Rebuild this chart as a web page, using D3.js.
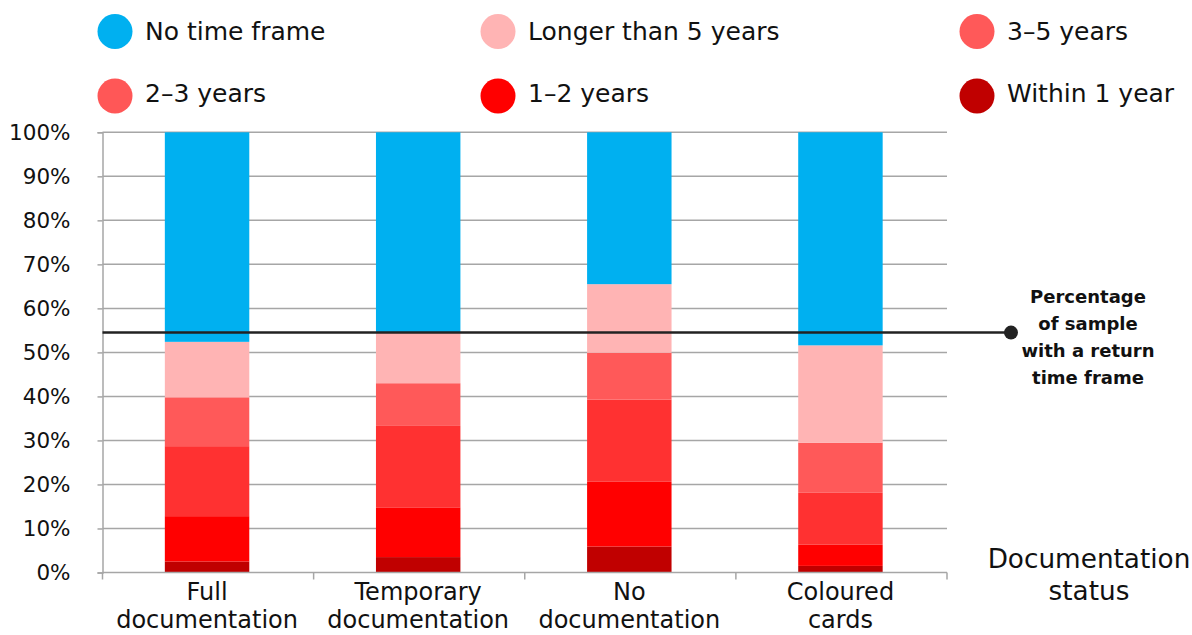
<!DOCTYPE html>
<html>
<head>
<meta charset="utf-8">
<script src="https://cdn.jsdelivr.net/npm/d3@7"></script>
<style>
  html, body { margin: 0; padding: 0; background: #fff; }
  svg { display: block; }
  text { font-family: "DejaVu Sans", sans-serif; fill: #111; }
</style>
</head>
<body>
<svg id="chart" width="1192" height="635"></svg>
<script>
// ---- data ----
const categories = ["Full documentation", "Temporary documentation", "No documentation", "Coloured cards"];
const seriesNames = ["Within 1 year", "1–2 years", "2–3 years", "3–5 years", "Longer than 5 years", "No time frame"];
const seriesColors = ["#C00000", "#FF0000", "#FF3131", "#FF5959", "#FFB4B4", "#00B0F0"];
const within1 = [2.5, 3.5, 5.9, 1.5];
const years1to2 = [10.3, 11.3, 14.7, 4.8];
const years2to3 = [15.9, 18.5, 18.7, 11.8];
const years3to5 = [11.1, 9.7, 10.6, 11.4];
const longer5 = [12.6, 11.5, 15.6, 22.1];
const noTimeFrame = [47.6, 45.5, 34.5, 48.4];
const yTicks = [0, 10, 20, 30, 40, 50, 60, 70, 80, 90, 100];
const referenceValue = 54.5;
const referenceLabel = ["Percentage", "of sample", "with a return", "time frame"];
const axisTitle = ["Documentation", "status"];
const legendOrder = ["No time frame", "Longer than 5 years", "3–5 years", "2–3 years", "1–2 years", "Within 1 year"];
const legendColors = ["#00B0F0", "#FFB4B4", "#FF5959", "#FF5757", "#FF0000", "#C00000"];

// ---- build table ----
const seriesValues = [within1, years1to2, years2to3, years3to5, longer5, noTimeFrame];
const table = categories.map((c, i) => {
  const row = { category: c };
  seriesNames.forEach((s, j) => row[s] = seriesValues[j][i]);
  return row;
});
const stacked = d3.stack().keys(seriesNames)(table);
const color = d3.scaleOrdinal().domain(seriesNames).range(seriesColors);
const legendColor = d3.scaleOrdinal().domain(legendOrder).range(legendColors);

const svg = d3.select("#chart");
const plotLeft = 102.5, plotRight = 947, plotTop = 132.3, plotBottom = 572.5;

const x = d3.scaleBand().domain(categories).range([plotLeft, plotRight]).paddingInner(0.6).paddingOuter(0.3);
const y = d3.scaleLinear().domain([0, 100]).range([plotBottom, plotTop]);

// gridlines
svg.append("g").selectAll("line").data(yTicks.filter(d => d > 0)).join("line")
  .attr("x1", plotLeft).attr("x2", plotRight)
  .attr("y1", d => y(d)).attr("y2", d => y(d))
  .attr("stroke", "#A6A6A6").attr("stroke-width", 1.5);

// y axis
const yAxis = svg.append("g").attr("transform", `translate(${plotLeft},0)`)
  .call(d3.axisLeft(y).tickValues(yTicks).tickFormat(d => d + "%").tickSize(5).tickPadding(27));
yAxis.select(".domain").attr("stroke", "#A6A6A6").attr("stroke-width", 1.5);
yAxis.selectAll(".tick line").attr("stroke", "#A6A6A6").attr("stroke-width", 1.5);
yAxis.selectAll(".tick text").attr("font-size", 21.5).attr("font-family", "DejaVu Sans").attr("fill", "#111");

// bars
svg.append("g").selectAll("g").data(stacked).join("g")
  .attr("fill", d => color(d.key))
  .selectAll("rect").data(d => d).join("rect")
  .attr("x", d => x(d.data.category) - 1)
  .attr("width", x.bandwidth())
  .attr("y", d => y(d[1]))
  .attr("height", d => y(d[0]) - y(d[1]));

// x axis baseline and boundary ticks
const gap = (x.step() - x.bandwidth()) / 2;
const boundaries = categories.map(c => x(c) - gap).concat([x(categories[categories.length - 1]) + x.bandwidth() + gap]);
svg.append("line").attr("x1", plotLeft).attr("x2", plotRight).attr("y1", y(0)).attr("y2", y(0))
  .attr("stroke", "#A6A6A6").attr("stroke-width", 1.5);
svg.append("g").selectAll("line").data(boundaries).join("line")
  .attr("x1", d => d).attr("x2", d => d).attr("y1", y(0)).attr("y2", y(0) + 7)
  .attr("stroke", "#A6A6A6").attr("stroke-width", 1.5);

// category labels
const catG = svg.append("g").selectAll("text").data(categories).join("text")
  .attr("text-anchor", "middle").attr("font-size", 24)
  .attr("x", d => x(d) + x.bandwidth() / 2 - 1)
  .attr("y", 600);
catG.each(function(d) {
  const i = d.indexOf(" ");
  const lines = [d.slice(0, i), d.slice(i + 1)];
  d3.select(this).selectAll("tspan").data(lines).join("tspan")
    .attr("x", x(d) + x.bandwidth() / 2 - 1)
    .attr("dy", (l, k) => k === 0 ? 0 : 28)
    .text(l => l);
});

// reference line
svg.append("line").attr("x1", plotLeft).attr("x2", 1011).attr("y1", y(referenceValue)).attr("y2", y(referenceValue))
  .attr("stroke", "#222").attr("stroke-width", 2.5);
svg.append("circle").attr("cx", 1011).attr("cy", y(referenceValue)).attr("r", 7).attr("fill", "#222");
svg.append("g").selectAll("text").data(referenceLabel).join("text")
  .attr("x", 1088).attr("y", (d, i) => 296 + i * 27)
  .attr("text-anchor", "middle").attr("dominant-baseline", "central")
  .attr("font-size", 18).attr("font-weight", "bold").text(d => d);

// axis title
svg.append("g").selectAll("text").data(axisTitle).join("text")
  .attr("x", 1089).attr("y", (d, i) => 568 + i * 32)
  .attr("text-anchor", "middle").attr("font-size", 26.3).text(d => d);

// legend
const legendX = [115, 498, 977];
const legendCircleY = [31.5, 96];
const legendTextY = [31, 93];
const lg = svg.append("g").selectAll("g").data(legendOrder).join("g")
  .attr("transform", (d, i) => `translate(${legendX[i % 3]},0)`);
lg.append("circle").attr("r", 17.5).attr("cy", (d, i) => legendCircleY[Math.floor(i / 3)]).attr("fill", d => legendColor(d));
lg.append("text").attr("x", 30).attr("y", (d, i) => legendTextY[Math.floor(i / 3)])
  .attr("dominant-baseline", "central").attr("font-size", 25).text(d => d);
</script>
</body>
</html>
